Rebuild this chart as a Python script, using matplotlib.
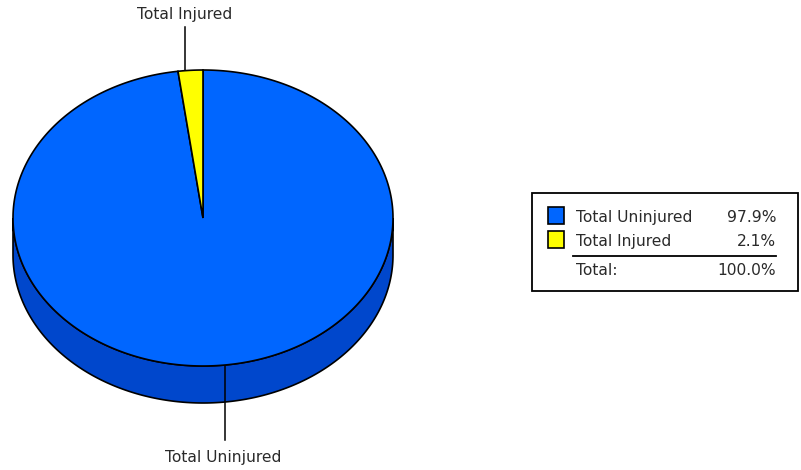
import numpy as np
import matplotlib
matplotlib.use("Agg")
import matplotlib.pyplot as plt
from matplotlib.patches import Polygon, Rectangle

# ---- data ----
categories = ["Total Uninjured", "Total Injured"]
percent = [97.9, 2.1]
total_label = "Total:"
total_value = 100.0

top_colors = ["#0066FF", "#FFFF00"]
side_colors = ["#0047CC", "#B3B300"]

# ---- figure in pixel coordinates ----
W, H = 801, 470
fig = plt.figure(figsize=(W / 100, H / 100), dpi=100)
ax = fig.add_axes([0, 0, 1, 1])
ax.set_xlim(0, W)
ax.set_ylim(H, 0)
ax.axis("off")

FONT = "DejaVu Sans"
FS = 11.2
TC = "#2a2a2a"

# pie geometry
cx, cy, rx, ry, depth = 203, 218, 190, 148, 37
LW = 1.2


def pt(theta_deg, dy=0.0):
    t = np.radians(theta_deg)
    return cx + rx * np.cos(t), cy - ry * np.sin(t) + dy


fr = np.array(percent) / sum(percent)
spans = fr * 360.0
start_inj = 90.0
end_inj = 90.0 + spans[1]
slices = [(0, end_inj, 450.0), (1, start_inj, end_inj)]

# side (front half)
for idx, a0, a1 in slices:
    for lo, hi in [(180, 360), (540, 720)]:
        s, e = max(a0, lo), min(a1, hi)
        if e > s:
            th = np.linspace(s, e, 200)
            topx, topy = pt(th)
            botx, boty = pt(th[::-1], depth)
            poly = np.column_stack([np.r_[topx, botx], np.r_[topy, boty]])
            ax.add_patch(Polygon(poly, closed=True, facecolor=side_colors[idx],
                                 edgecolor="black", lw=LW, zorder=2))

# top wedges
for idx, a0, a1 in slices:
    th = np.linspace(a0, a1, 400)
    xs, ys = pt(th)
    poly = np.column_stack([np.r_[cx, xs], np.r_[cy, ys]])
    ax.add_patch(Polygon(poly, closed=True, facecolor=top_colors[idx],
                         edgecolor="black", lw=LW, zorder=3))

# leader lines and labels
ax.plot([185, 185], [27, pt(90 + spans[1] / 2)[1]], color="black", lw=1.1, zorder=4)
ax.text(185, 19, categories[1], ha="center", va="baseline", fontsize=FS,
        family=FONT, color=TC)
yb = pt(270 + spans[1] / 2)[1]
ax.plot([225, 225], [yb, 440], color="black", lw=1.1, zorder=4)
ax.text(223, 462, categories[0], ha="center", va="baseline", fontsize=FS,
        family=FONT, color=TC)

# legend box
ax.add_patch(Rectangle((531.5, 192.5), 266, 98, facecolor="white",
                       edgecolor="black", lw=1.3, zorder=5))
rows_base = [222, 246]
for i, yb_ in enumerate(rows_base):
    ax.add_patch(Rectangle((547.5, yb_ - 15), 16, 17, facecolor=top_colors[i],
                           edgecolor="black", lw=1.2, zorder=6))
    ax.text(576, yb_, categories[i], ha="left", va="baseline", fontsize=FS,
            family=FONT, color=TC, zorder=6)
    ax.text(776, yb_, f"{percent[i]:.1f}%", ha="right", va="baseline", fontsize=FS,
            family=FONT, color=TC, zorder=6)
ax.plot([573, 776], [256, 256], color="black", lw=1.3, zorder=6)
ax.text(576, 275, total_label, ha="left", va="baseline", fontsize=FS,
        family=FONT, color=TC, zorder=6)
ax.text(776, 275, f"{total_value:.1f}%", ha="right", va="baseline", fontsize=FS,
        family=FONT, color=TC, zorder=6)

fig.savefig("out.png", dpi=100, facecolor="white")
